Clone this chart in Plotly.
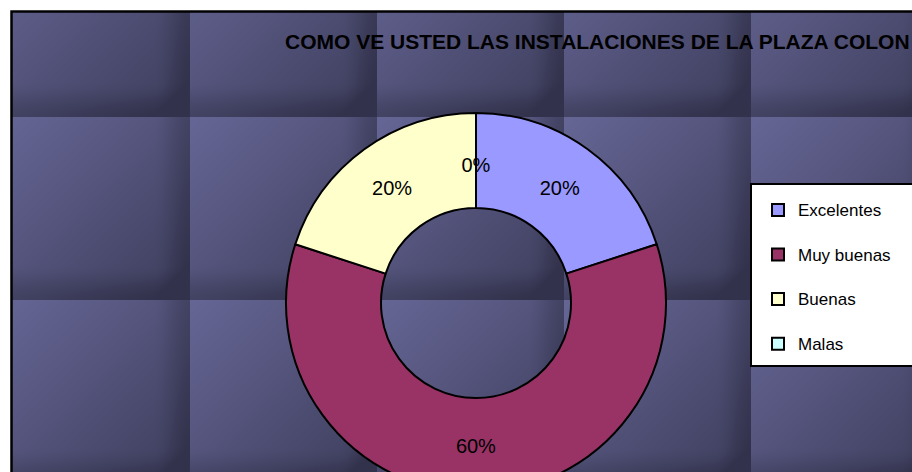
import base64
import struct
import zlib

import numpy as np
import plotly.graph_objects as go

# ---------------- data ----------------
title_text = "COMO VE USTED LAS INSTALACIONES DE LA PLAZA COLON"
labels = ["Excelentes", "Muy buenas", "Buenas", "Malas"]
values = [20, 60, 20, 0]
colors = ["#9999FF", "#993366", "#FFFFCC", "#CCFFFF"]

# ---------------- canvas ----------------
W, H = 912, 500          # drawn slightly taller than the window; bottom is cut like the original


def px_x(v):
    return v / W


def px_y(v):
    return 1 - v / H


# ---------- tiled background texture (decoration) ----------
IMG_X0, IMG_Y0 = 12, 12
iw, ih = W - IMG_X0, H - IMG_Y0
TILE_W, TILE_H = 187, 183
TILE_OX, TILE_OY = 3, -66

gx = np.arange(iw) + IMG_X0 + 0.5
gy = np.arange(ih) + IMG_Y0 + 0.5
u = ((gx - TILE_OX) % TILE_W) / TILE_W
w = ((gy - TILE_OY) % TILE_H) / TILE_H
U, V = np.meshgrid(u, w)


def smooth(e0, e1, x):
    t = np.clip((x - e0) / (e1 - e0), 0, 1)
    return t * t * (3 - 2 * t)


t = 0.40 * U + 0.40 * V + 0.28 * smooth(0.80, 1.0, U) + 0.28 * smooth(0.80, 1.0, V)
t = np.clip(t, 0, 1)[..., None]
light = np.array([102, 102, 150], dtype=float)
dark = np.array([50, 50, 76], dtype=float)
rgb = np.round(light * (1 - t) + dark * t).astype(np.uint8)


def png_uri(arr):
    h, w_, _ = arr.shape
    flat = arr.reshape(h, w_ * 3).astype(np.int16)
    sub = flat.copy()
    sub[:, 3:] = flat[:, 3:] - flat[:, :-3]
    raw = np.zeros((h, w_ * 3 + 1), dtype=np.uint8)
    raw[:, 0] = 1
    raw[:, 1:] = (sub % 256).astype(np.uint8)
    comp = zlib.compress(raw.tobytes(), 9)

    def chunk(tag, data):
        return (struct.pack(">I", len(data)) + tag + data
                + struct.pack(">I", zlib.crc32(tag + data) & 0xFFFFFFFF))

    png = (b"\x89PNG\r\n\x1a\n"
           + chunk(b"IHDR", struct.pack(">IIBBBBB", w_, h, 8, 2, 0, 0, 0))
           + chunk(b"IDAT", comp) + chunk(b"IEND", b""))
    return "data:image/png;base64," + base64.b64encode(png).decode()


bg_uri = png_uri(rgb)

# ---------------- chart ----------------
FONT = "Liberation Sans, Arial, sans-serif"
legend_names = ["<span style='font-size:17px'>" + l + "</span><br>\u00a0" for l in labels]
templates = ["%{percent:.0%}" if v > 0 else "\u00a0<br>\u00a0<br>\u00a0<br>\u00a0<br>%{percent:.0%}"
             for v in values]

fig = go.Figure(go.Pie(
    labels=legend_names,
    values=values,
    hole=0.5,
    sort=False,
    direction="clockwise",
    rotation=0,
    marker=dict(colors=colors, line=dict(color="black", width=2)),
    texttemplate=templates,
    textposition="inside",
    insidetextorientation="horizontal",
    textfont=dict(family=FONT, size=20, color="black"),
    domain=dict(x=[px_x(286), px_x(666)], y=[px_y(493), px_y(113)]),
    hoverinfo="label+percent",
))

fig.update_layout(
    width=W, height=H,
    margin=dict(l=0, r=0, t=0, b=0),
    paper_bgcolor="white",
    plot_bgcolor="white",
    uniformtext=dict(mode="show", minsize=20),
    title=dict(
        text=title_text,
        x=px_x(285), xanchor="left",
        y=px_y(42), yanchor="middle",
        font=dict(family="Liberation Sans Narrow, Arial Narrow, Liberation Sans, Arial",
                  size=21, color="black", weight="bold"),
    ),
    showlegend=True,
    legend=dict(
        x=px_x(758), xanchor="left",
        y=px_y(193), yanchor="top",
        bgcolor="rgba(0,0,0,0)", borderwidth=0,
        font=dict(family=FONT, size=16, color="black"),
        valign="top",
        traceorder="normal",
    ),
    images=[dict(
        source=bg_uri, xref="paper", yref="paper",
        x=px_x(IMG_X0), y=px_y(IMG_Y0), sizex=iw / W, sizey=ih / H,
        xanchor="left", yanchor="top", sizing="stretch", layer="below",
    )],
    shapes=[
        # outer chart frame
        dict(type="rect", xref="paper", yref="paper", layer="below",
             x0=px_x(11.5), x1=px_x(960), y0=px_y(11.5), y1=px_y(H + 40),
             line=dict(color="black", width=2.5), fillcolor="rgba(0,0,0,0)"),
        # legend box
        dict(type="rect", xref="paper", yref="paper", layer="above",
             x0=px_x(751), x1=px_x(1000), y0=px_y(184), y1=px_y(366),
             line=dict(color="black", width=2), fillcolor="white"),
    ],
)

fig.write_html(
    "out.html",
    config={"displayModeBar": False},
    post_script="document.body.style.margin='0';document.body.style.overflow='hidden';"
                "document.documentElement.style.overflow='hidden';",
)
